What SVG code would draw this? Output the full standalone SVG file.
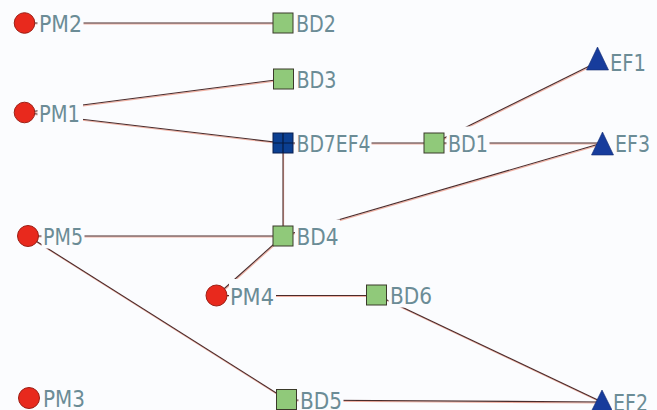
<svg xmlns="http://www.w3.org/2000/svg" xmlns:xlink="http://www.w3.org/1999/xlink" width="657" height="410" viewBox="0 0 657 410">
<defs>
<style>
.pm{fill:#e8291d;stroke:#9c1e14;stroke-width:1}
.bd{fill:#90c97a;stroke:#3a3a2a;stroke-width:1}
.bdx{fill:#0b3f91;stroke:#0a1f4f;stroke-width:1}
.ef{fill:#173c9c;stroke:#102a70;stroke-width:0.6}
.lbg{fill:#fbfcfe;stroke:none}
.lbl{font-family:"DejaVu Sans","Liberation Sans",sans-serif;font-size:23px;fill:#6b8c96}
.edges line{fill:none;stroke-width:1.1}
</style>
</defs>
<rect width="657" height="410" fill="#fbfcfe"/>
<use xlink:href="#edgeLines" href="#edgeLines" stroke="#f0b0a2" transform="translate(0.6,1)"/>
<g id="connectors" class="edges" stroke="#4a2b2b">
<g id="edgeLines">
<line x1="24.5" y1="23" x2="283" y2="23"/>
<line x1="24.5" y1="112.5" x2="283.5" y2="79"/>
<line x1="24.5" y1="112.5" x2="283" y2="143"/>
<line x1="283" y1="143" x2="434" y2="143"/>
<line x1="434" y1="143" x2="597.5" y2="62"/>
<line x1="434" y1="143" x2="602.5" y2="143"/>
<line x1="283" y1="236" x2="602.5" y2="143"/>
<line x1="283" y1="143" x2="283" y2="236"/>
<line x1="28" y1="236" x2="283" y2="236"/>
<line x1="283" y1="236" x2="216.5" y2="295.5"/>
<line x1="216.5" y1="295.5" x2="376.5" y2="295.5"/>
<line x1="28" y1="236" x2="286.5" y2="399.5"/>
<line x1="376.5" y1="295" x2="602" y2="402"/>
<line x1="286.5" y1="400" x2="602" y2="402"/>
</g>
</g>
<g id="PM2"><circle class="pm" cx="24.5" cy="23" r="10.3"/><rect class="lbg" x="37.5" y="6.5" width="46" height="29"/><text class="lbl" x="39" y="32" textLength="43" lengthAdjust="spacingAndGlyphs">PM2</text></g>
<g id="PM1"><circle class="pm" cx="24.5" cy="112.5" r="10.3"/><rect class="lbg" x="37.5" y="96" width="45.5" height="29"/><text class="lbl" x="39" y="121.5" textLength="41" lengthAdjust="spacingAndGlyphs">PM1</text></g>
<g id="PM5"><circle class="pm" cx="28" cy="236" r="10.5"/><rect class="lbg" x="41.5" y="219.5" width="43" height="29"/><text class="lbl" x="43" y="245" textLength="40" lengthAdjust="spacingAndGlyphs">PM5</text></g>
<g id="PM4"><circle class="pm" cx="216.5" cy="295.5" r="10.5"/><rect class="lbg" x="229" y="279" width="47" height="29"/><text class="lbl" x="230" y="304.5" textLength="44" lengthAdjust="spacingAndGlyphs">PM4</text></g>
<g id="PM3"><circle class="pm" cx="29" cy="398" r="10.5"/><rect class="lbg" x="41.5" y="381.5" width="45" height="29"/><text class="lbl" x="43" y="407" textLength="42" lengthAdjust="spacingAndGlyphs">PM3</text></g>
<g id="BD2"><rect class="bd" x="273" y="13" width="20" height="20"/><rect class="lbg" x="294.5" y="6.5" width="43" height="29"/><text class="lbl" x="296" y="32" textLength="40" lengthAdjust="spacingAndGlyphs">BD2</text></g>
<g id="BD3"><rect class="bd" x="273.5" y="69" width="20" height="20"/><rect class="lbg" x="295" y="62.5" width="43" height="29"/><text class="lbl" x="296.5" y="88" textLength="40" lengthAdjust="spacingAndGlyphs">BD3</text></g>
<g id="BD7EF4"><rect class="bdx" x="273" y="133" width="20" height="20"/><path d="M273 143H293M283 133V153" stroke="#061a40" stroke-width="1.2" fill="none"/><rect class="lbg" x="295" y="126.5" width="76.5" height="29"/><text class="lbl" x="296.5" y="152" textLength="74" lengthAdjust="spacingAndGlyphs">BD7EF4</text></g>
<g id="BD1"><rect class="bd" x="424" y="133" width="20" height="20"/><rect class="lbg" x="446.5" y="126.5" width="43" height="29"/><text class="lbl" x="448" y="152" textLength="40" lengthAdjust="spacingAndGlyphs">BD1</text></g>
<g id="BD4"><rect class="bd" x="273" y="226" width="20" height="20"/><rect class="lbg" x="295" y="219.5" width="45" height="29"/><text class="lbl" x="296.5" y="245" textLength="42" lengthAdjust="spacingAndGlyphs">BD4</text></g>
<g id="BD6"><rect class="bd" x="366.5" y="285" width="20" height="20"/><rect class="lbg" x="388.5" y="278.5" width="45" height="29"/><text class="lbl" x="390" y="304" textLength="42" lengthAdjust="spacingAndGlyphs">BD6</text></g>
<g id="BD5"><rect class="bd" x="276.5" y="389.5" width="20" height="20"/><rect class="lbg" x="298.5" y="383" width="45" height="29"/><text class="lbl" x="300" y="408.5" textLength="42" lengthAdjust="spacingAndGlyphs">BD5</text></g>
<g id="EF1"><polygon class="ef" points="597.5,47 586.5,70 608.5,70"/><rect class="lbg" x="609" y="45.5" width="39" height="29"/><text class="lbl" x="610" y="71" textLength="36" lengthAdjust="spacingAndGlyphs">EF1</text></g>
<g id="EF3"><polygon class="ef" points="602.5,132 591.5,155 613.5,155"/><rect class="lbg" x="614" y="126.5" width="38" height="29"/><text class="lbl" x="615" y="152" textLength="35" lengthAdjust="spacingAndGlyphs">EF3</text></g>
<g id="EF2"><polygon class="ef" points="602,390 590.5,413 613.5,413"/><rect class="lbg" x="612" y="385.5" width="38" height="29"/><text class="lbl" x="613" y="411" textLength="35" lengthAdjust="spacingAndGlyphs">EF2</text></g>
</svg>
